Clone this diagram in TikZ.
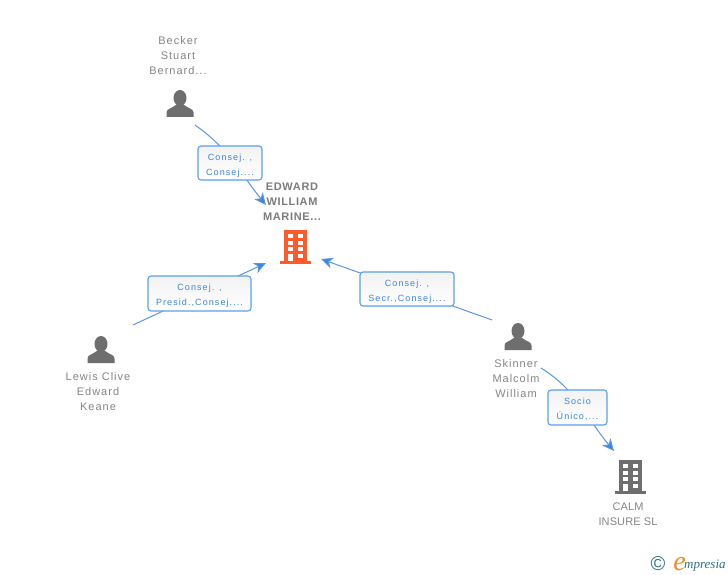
\documentclass[tikz,border=0pt]{standalone}
\usepackage{fontspec}
\setmainfont{Liberation Sans}
\newfontfamily\namefont[LetterSpace=9]{Liberation Sans}
\newfontfamily\plainnamefont[LetterSpace=1]{Liberation Sans}
\newfontfamily\titlefont[LetterSpace=6]{Liberation Sans}
\newfontfamily\rolefont[LetterSpace=12]{Liberation Sans}
\newfontfamily\logofont{Liberation Serif}
\usetikzlibrary{arrows.meta,shadings}
\definecolor{roleblue}{HTML}{3C84E4}
\definecolor{boxblue}{HTML}{5C9EEE}
\definecolor{iconorange}{HTML}{FF5A2B}
\definecolor{icongrey}{HTML}{6E6E6E}
\definecolor{namegrey}{HTML}{858585}
\definecolor{logoteal}{HTML}{2F7186}
\definecolor{logoorange}{HTML}{F58A1F}
\newcommand{\rolestrut}{\rule{0pt}{11pt}}
\tikzset{
  namelabel/.style={text=namegrey,align=center,font=\namefont\fontsize{11}{15}\selectfont},
  titlelabel/.style={text=icongrey!90,align=center,font=\titlefont\bfseries\fontsize{11}{15}\selectfont},
  rolebox/.style={draw=boxblue,line width=1.1pt,rounded corners=3pt,top color=black!5,bottom color=white,
    text=roleblue,align=center,inner sep=0pt,font=\rolefont\fontsize{9}{15}\selectfont},
  rolelink/.style={draw=roleblue!85!white,line width=1pt},
  rolearrow/.style={rolelink,-{Stealth[length=12pt,width=11pt,inset=3.5pt,fill=roleblue]}},
  personicon/.pic={
    \fill[icongrey] (0,-5.5) ellipse (6.5 and 8);
    \fill[icongrey] (-13.5,13.5) -- (-13.5,9) .. controls (-13.5,5) and (-8,5) .. (-3.5,1)
      -- (3.5,1) .. controls (8,5) and (13.5,5) .. (13.5,9) -- (13.5,13.5) -- cycle;
  },
  buildingicon/.pic={
    \fill[pic actions] (-11.5,-17) rectangle (11.5,15);
    \fill[pic actions] (-15.5,14) rectangle (15.5,17);
    \foreach \winy in {-13,-6.5,0,6.5} {
      \fill[white] (-7.8,\winy) rectangle (-2.8,\winy+4.4);
      \fill[white] (2.2,\winy) rectangle (7.2,\winy+4.4);
    }
    \fill[white] (-7.8,10) rectangle (-2.8,14); % door
  }
}
\begin{document}
\begin{tikzpicture}[x=1pt,y=-1pt]
  \useasboundingbox (0,0) rectangle (728,575);

  % Link ends
  \coordinate (beckerout) at (195,125);
  \coordinate (edwardtop) at (266,205);
  \coordinate (lewisout) at (133,325);
  \coordinate (edwardleft) at (266,263);
  \coordinate (skinnerout) at (492,320);
  \coordinate (edwardright) at (321,259);
  \coordinate (skinnerdown) at (541,368);
  \coordinate (calmtop) at (614,451);

  % Links, the boxes go on top of them
  \draw[rolearrow] (beckerout) to[out=-35,in=129] (edwardtop);
  \draw[rolearrow] (lewisout) -- (edwardleft);
  \draw[rolearrow] (skinnerout) -- (edwardright);
  \draw[rolearrow] (skinnerdown) to[out=-32,in=130] (calmtop);

  % Role boxes
  \node[rolebox,minimum width=64pt,minimum height=34pt] (beckerrole) at (230,163) {\rolestrut Consej. ,\\Consej....};
  \node[rolebox,minimum width=103pt,minimum height=35pt] (lewisrole) at (199.5,293.5) {\rolestrut Consej. ,\\Presid.,Consej....};
  \node[rolebox,minimum width=94pt,minimum height=34pt] (skinnerrole) at (407,289) {\rolestrut Consej. ,\\Secr.,Consej....};
  \node[rolebox,minimum width=59pt,minimum height=35pt] (calmrole) at (577.5,407.5) {\rolestrut Socio\\Único,...};

  % Companies
  \node[titlelabel] (edward) at (292,201.5) {EDWARD\\WILLIAM\\MARINE...};
  \pic[fill=iconorange] at (295.5,247) {buildingicon};
  \node[namelabel,font=\plainnamefont\fontsize{11}{15}\selectfont] (calm) at (628,514) {CALM\\INSURE SL};
  \pic[fill=icongrey] at (630.5,477) {buildingicon};

  % People
  \node[namelabel] (becker) at (178,56) {Becker\\Stuart\\Bernard...};
  \pic at (180,103.5) {personicon};
  \node[namelabel] (lewis) at (98,392) {Lewis Clive\\Edward\\Keane};
  \pic at (101,349.5) {personicon};
  \node[namelabel] (skinner) at (516,379) {Skinner\\Malcolm\\William};
  \pic at (518,336.5) {personicon};

  % Logo
  \node[text=logoteal,font=\fontsize{20}{20}\selectfont,inner sep=0pt] (copyright) at (658,564) {©};
  \node[text=logoteal,font=\logofont\itshape\fontsize{13}{15}\selectfont,inner sep=0pt,anchor=base west] (logoname) at (684,568) {mpresia};
  \node[text=logoorange,font=\logofont\itshape\fontsize{28}{28}\selectfont,inner sep=0pt,anchor=base east] (logoe) at (686,570) {e};
\end{tikzpicture}
\end{document}
